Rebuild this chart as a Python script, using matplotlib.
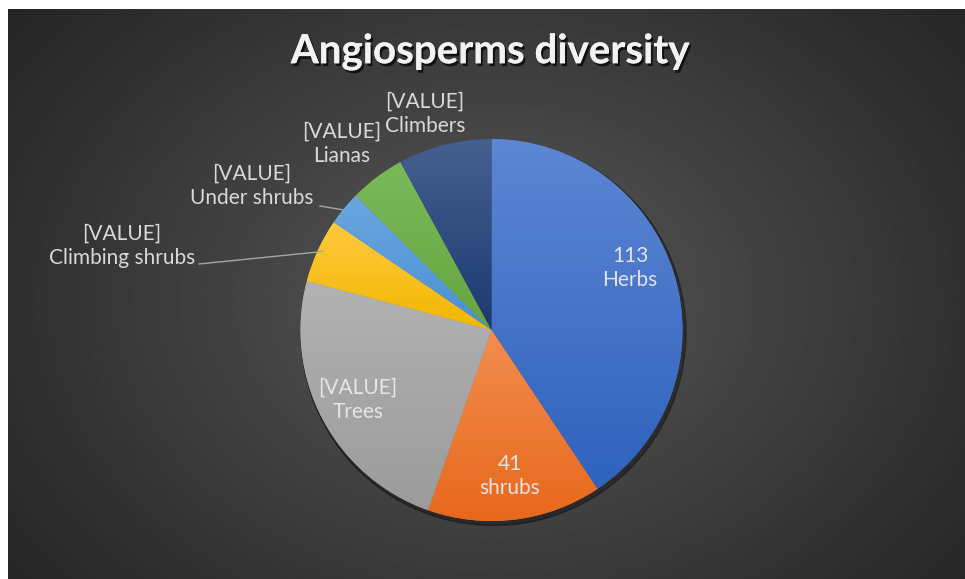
import numpy as np
import matplotlib
matplotlib.use('Agg')
import matplotlib.pyplot as plt
import matplotlib.patheffects as pe
from matplotlib.colors import to_rgb
from matplotlib.patches import Circle

# データ
categories = ['Herbs', 'shrubs', 'Trees', 'Climbing shrubs', 'Under shrubs', 'Lianas', 'Climbers']
values = [113, 41, 66, 15, 8, 13, 22]
value_text = ['113', '41', '[VALUE]', '[VALUE]', '[VALUE]', '[VALUE]', '[VALUE]']

# 色 (上, 下) のグラデーション
top_colors = ['#5d86d3', '#f28d4f', '#b2b2b2', '#ffc93f', '#6ba6de', '#7ab95a', '#45608f']
bottom_colors = ['#2e62bd', '#e8681c', '#9b9b9b', '#f1b700', '#4a90d4', '#66a53e', '#1c3a72']

W, H = 965, 579
fig = plt.figure(figsize=(W / 100, H / 100), dpi=100)
fig.patch.set_facecolor('white')

# 背景 (放射グラデーション)
bg = fig.add_axes([8 / W, 0, (W - 8) / W, (H - 9) / H])
bx = np.linspace(8, W, 400)
by = np.linspace(9, H, 300)
X, Y = np.meshgrid(bx, by)
d = np.sqrt(((X - 495) / 620) ** 2 + ((Y - 300) / 470) ** 2)
lum = 0x26 + (0x5a - 0x26) * np.clip(1 - d, 0, 1) ** 1.1
bg.imshow(lum / 255, cmap='gray', vmin=0, vmax=1, aspect='auto', interpolation='bilinear')
bg.axis('off')

# メイン
ax = fig.add_axes([0, 0, 1, 1])
ax.set_xlim(0, W)
ax.set_ylim(0, H)
ax.axis('off')
ax.patch.set_alpha(0)

cx, cy, r = 491.5, H - 330, 191

# 影
ax.add_patch(Circle((cx + 2, cy - 3), r + 1.5, color='black', alpha=0.35, zorder=1))

mid_colors = [tuple((np.array(to_rgb(a)) + np.array(to_rgb(b))) / 2) for a, b in zip(top_colors, bottom_colors)]
wedges, _ = ax.pie(values, colors=mid_colors, startangle=90, counterclock=False,
                   center=(cx, cy), radius=r, frame=True,
                   wedgeprops=dict(linewidth=0, zorder=2))

# 各扇形にグラデーション
for w, tc, bc in zip(wedges, top_colors, bottom_colors):
    v = w.get_path().vertices
    y0, y1 = v[:, 1].min(), v[:, 1].max()
    x0, x1 = v[:, 0].min(), v[:, 0].max()
    t = np.linspace(0, 1, 100)[:, None]
    grad = (1 - t) * np.array(to_rgb(tc)) + t * np.array(to_rgb(bc))
    im = ax.imshow(grad[:, None, :], extent=[x0, x1, y0, y1], origin='upper',
                   aspect='auto', interpolation='bilinear', zorder=3)
    im.set_clip_path(w)

ax.set_xlim(0, W)
ax.set_ylim(0, H)
ax.axis('off')

# タイトル
ax.text(490, H - 52, 'Angiosperms diversity', ha='center', va='center',
        fontsize=29, fontweight='bold', family='Lato', color='#f2f2f2',
        path_effects=[pe.withSimplePatchShadow(offset=(1.5, -2), shadow_rgbFace='black', alpha=0.7),
                      pe.Normal()], zorder=5)

# ラベル
label_pos = [(630, 268), (510, 476), (358, 400), (122, 246), (252, 186), (342, 144), (425, 114)]
label_col = ['#e3e3e3', '#e3e3e3', '#e6e6e6', '#d9d9d9', '#d9d9d9', '#d9d9d9', '#d9d9d9']
for (lx, ly), val, cat, col in zip(label_pos, value_text, categories, label_col):
    ax.text(lx, H - ly, f'{val}\n{cat}', ha='center', va='center', fontsize=15,
            family='Lato', color=col, linespacing=1.25, zorder=6)

# 引出線
ax.plot([199, 318, 323], [H - 264, H - 252, H - 251], color='#a6a6a6', lw=1, zorder=4)
ax.plot([320, 344], [H - 206, H - 210], color='#a6a6a6', lw=1, zorder=4)

fig.savefig('out.png', dpi=100)
